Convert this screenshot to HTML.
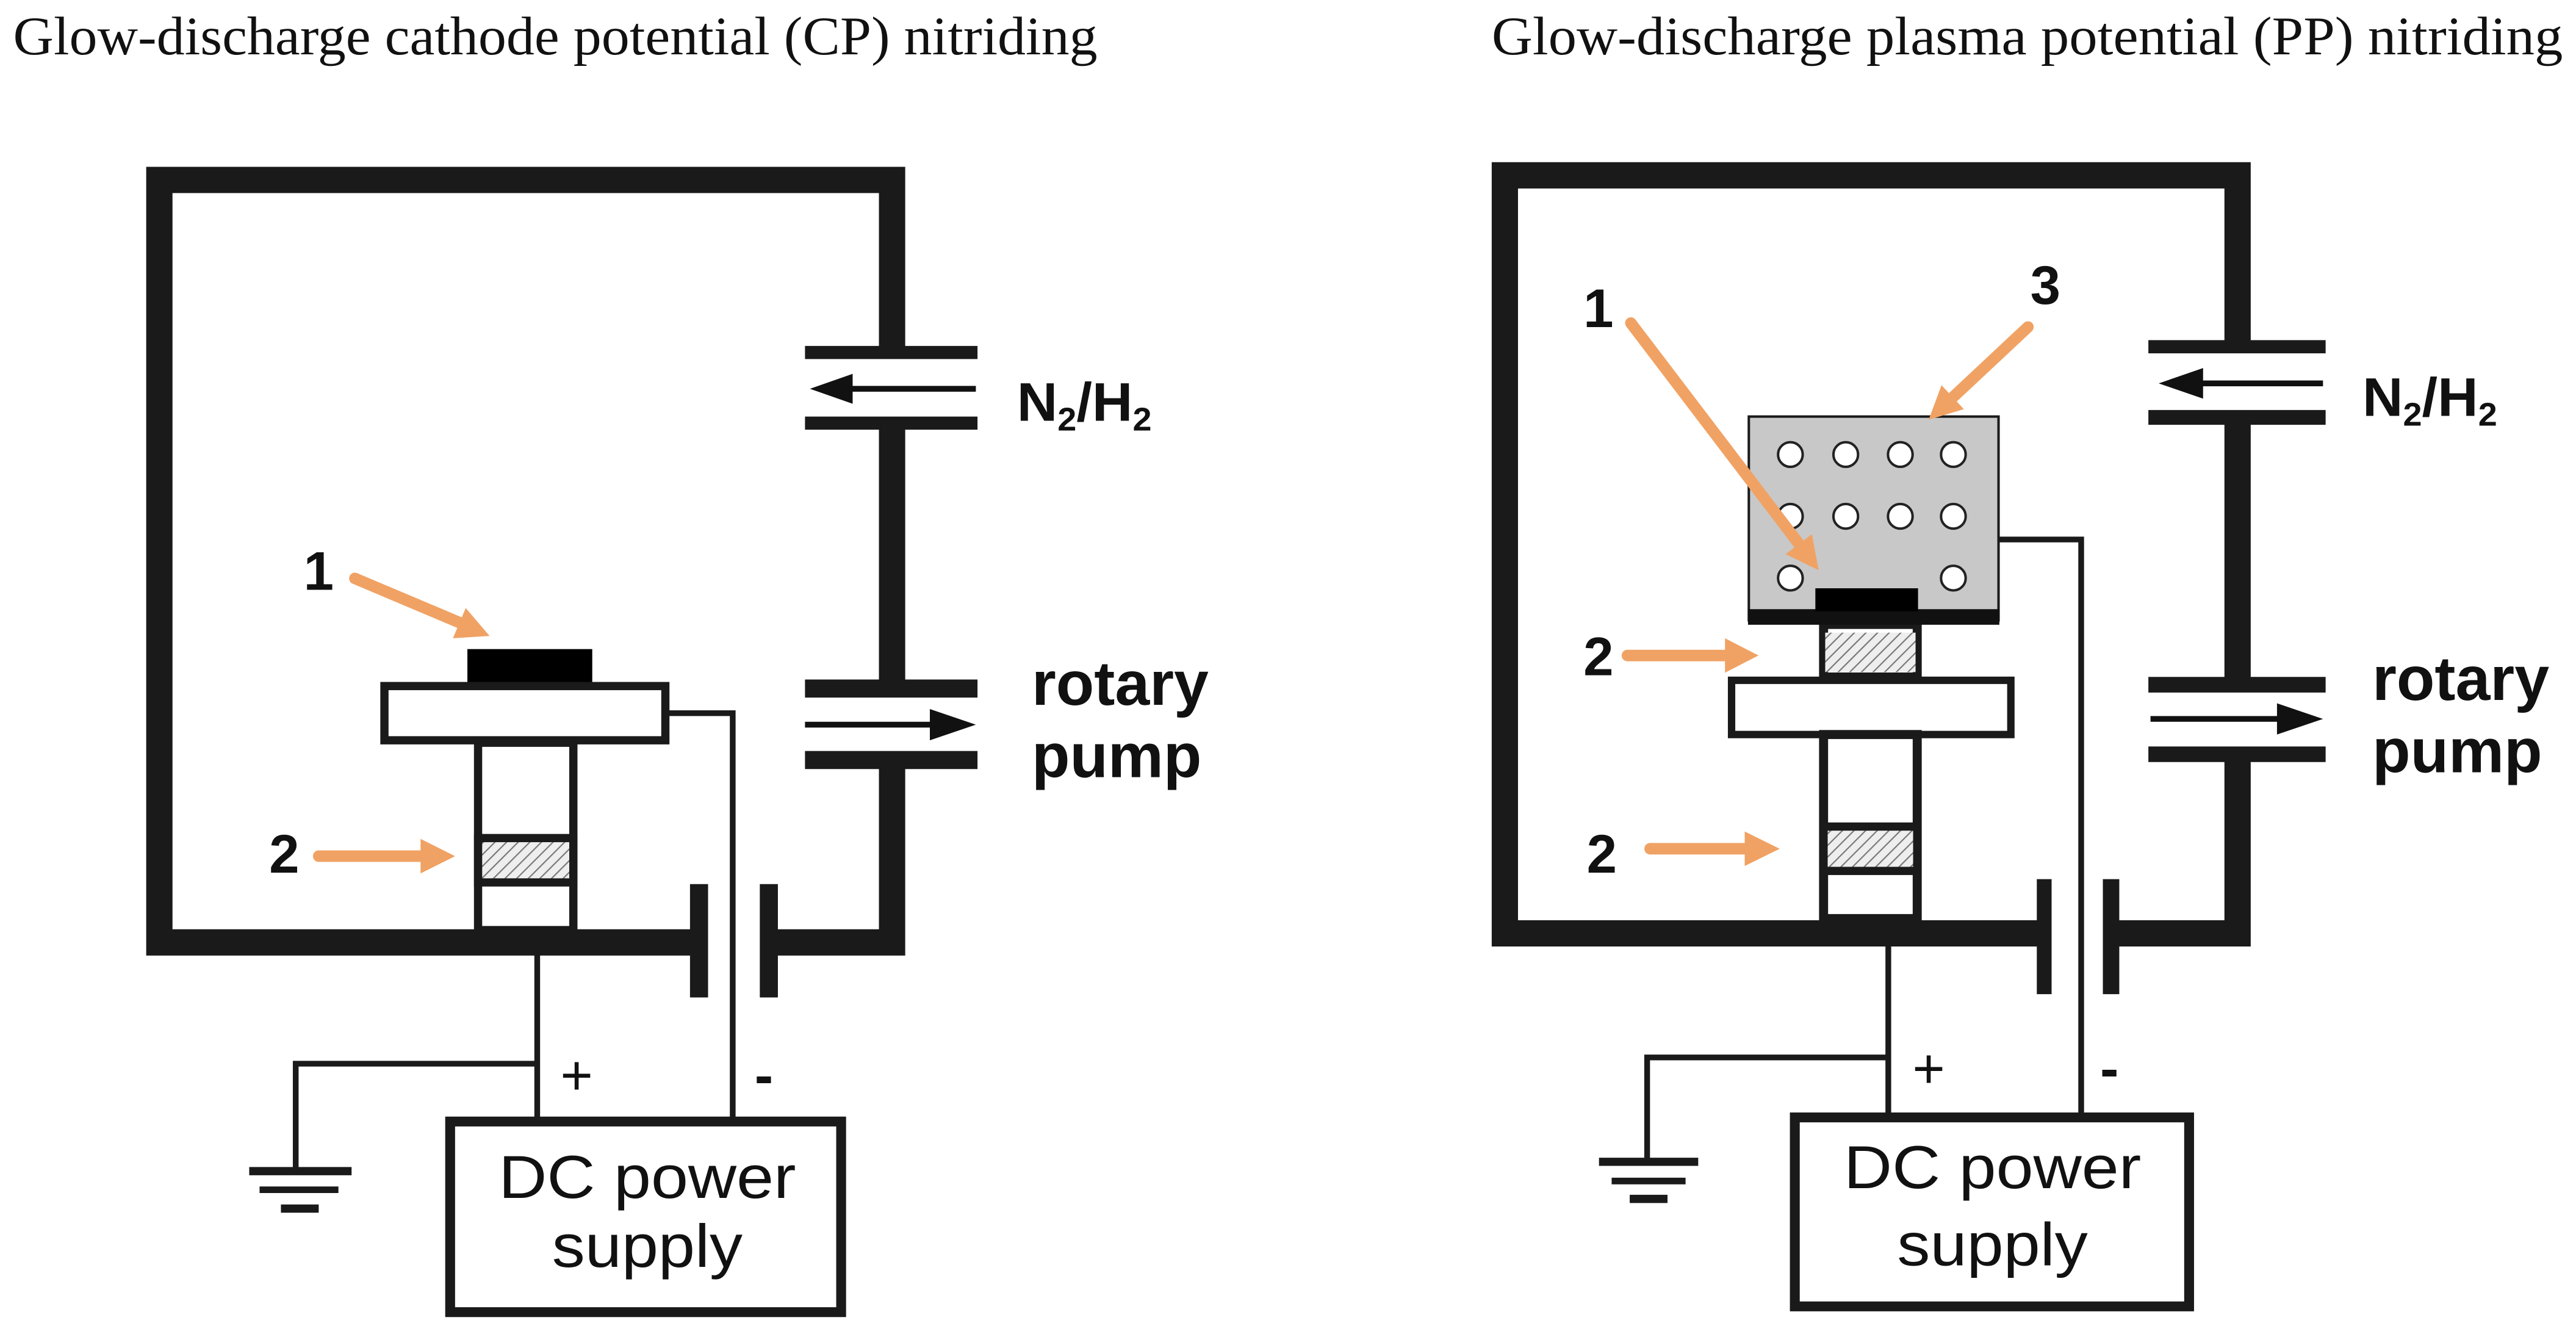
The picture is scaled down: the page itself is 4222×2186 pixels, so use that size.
<!DOCTYPE html>
<html><head><meta charset="utf-8"><style>
html,body{margin:0;padding:0;background:#fff;}
svg{display:block;}
</style></head><body>
<svg width="4222" height="2186" viewBox="0 0 1568 811.8" preserveAspectRatio="none" xmlns="http://www.w3.org/2000/svg">
<defs>
<pattern id="h" width="5" height="5" patternUnits="userSpaceOnUse" patternTransform="rotate(45)">
<rect width="5" height="5" fill="#eee"/><line x1="0" y1="0" x2="0" y2="5" stroke="#777" stroke-width="1.6"/>
</pattern>
</defs>
<rect width="1568" height="812" fill="#fff"/>
<g font-family="Liberation Serif, serif" font-size="33" fill="#111">
<text x="8" y="33" textLength="660" lengthAdjust="spacingAndGlyphs">Glow-discharge cathode potential (CP) nitriding</text>
<text x="908" y="33" textLength="652" lengthAdjust="spacingAndGlyphs">Glow-discharge plasma potential (PP) nitriding</text>
</g>

<!-- LEFT DIAGRAM -->
<g stroke="#1a1a1a" fill="none">
<path d="M543 214 V109.5 H97 V573.5 H426" stroke-width="16"/>
<path d="M468 573.5 H543 V466" stroke-width="16"/>
<path d="M543 258 V418" stroke-width="16"/>
<line x1="490" y1="214.5" x2="595" y2="214.5" stroke-width="8"/>
<line x1="490" y1="257.5" x2="595" y2="257.5" stroke-width="8"/>
<line x1="490" y1="419" x2="595" y2="419" stroke-width="11"/>
<line x1="490" y1="462.5" x2="595" y2="462.5" stroke-width="11"/>
<line x1="425.5" y1="538" x2="425.5" y2="607" stroke-width="11"/>
<line x1="468" y1="538" x2="468" y2="607" stroke-width="11"/>
<rect x="234" y="417.5" width="171" height="33" stroke-width="5" fill="#fff"/>
<rect x="291" y="452" width="58" height="114" stroke-width="5"/>
<rect x="291" y="510" width="58" height="27" stroke-width="5" fill="url(#h)"/>
<polyline points="406,434 446,434 446,680" stroke-width="3.5"/>
<line x1="327" y1="581" x2="327" y2="686" stroke-width="3.5"/>
<polyline points="327,647.3 180,647.3 180,712" stroke-width="3.5"/>
<line x1="151.7" y1="712.7" x2="214" y2="712.7" stroke-width="5"/>
<line x1="158" y1="724" x2="206" y2="724" stroke-width="4"/>
<line x1="171" y1="735.5" x2="194" y2="735.5" stroke-width="5"/>
<rect x="274" y="682.5" width="238" height="116" stroke-width="6" fill="#fff"/>
</g>
<rect x="284.5" y="395" width="76" height="20" fill="#000"/>
<g stroke="#111" stroke-width="3.5" fill="#111">
<line x1="517" y1="236.6" x2="594" y2="236.6"/>
<polygon points="493,236.6 519,227.5 519,245.7" stroke="none"/>
<line x1="490" y1="441" x2="568" y2="441"/>
<polygon points="594,441 566,431.5 566,450.5" stroke="none"/>
</g>
<g fill="#111" font-family="Liberation Sans, sans-serif">
<text x="619" y="256" font-size="33" font-weight="bold" textLength="82" lengthAdjust="spacingAndGlyphs">N<tspan font-size="20" dy="6">2</tspan><tspan dy="-6">/H</tspan><tspan font-size="20" dy="6">2</tspan></text>
<text x="628" y="429" font-size="38" font-weight="bold">rotary</text>
<text x="628" y="473" font-size="38" font-weight="bold">pump</text>
<text x="194" y="359" font-size="33" font-weight="bold" text-anchor="middle">1</text>
<text x="173" y="531" font-size="33" font-weight="bold" text-anchor="middle">2</text>
<text x="351" y="666" font-size="34" text-anchor="middle">+</text>
<text x="465" y="666" font-size="34" font-weight="bold" text-anchor="middle">-</text>
<text x="394" y="729" font-size="37" text-anchor="middle" textLength="181" lengthAdjust="spacingAndGlyphs">DC power</text>
<text x="394" y="771" font-size="37" text-anchor="middle" textLength="116" lengthAdjust="spacingAndGlyphs">supply</text>
</g>
<g stroke="#f0a264" stroke-width="7" fill="#f0a264" stroke-linecap="round">
<line x1="216" y1="352" x2="280" y2="379"/>
<polygon points="298,387 275.7,388.4 283.5,370" stroke="none"/>
<line x1="194" y1="521" x2="258" y2="521"/>
<polygon points="277,521 256,510.5 256,531.5" stroke="none"/>
</g>

<!-- RIGHT DIAGRAM -->
<g stroke="#1a1a1a" fill="none">
<path d="M1362 211 V106.7 H916 V568 H1245" stroke-width="16"/>
<path d="M1285 568 H1362 V459" stroke-width="16"/>
<path d="M1362 254 V416" stroke-width="16"/>
<line x1="1307.7" y1="211" x2="1415.6" y2="211" stroke-width="8"/>
<line x1="1307.7" y1="254" x2="1415.6" y2="254" stroke-width="9"/>
<line x1="1307.7" y1="416.7" x2="1415.6" y2="416.7" stroke-width="9.5"/>
<line x1="1307.7" y1="459" x2="1415.6" y2="459" stroke-width="9.5"/>
<line x1="1244.3" y1="535" x2="1244.3" y2="605" stroke-width="9"/>
<line x1="1285" y1="535" x2="1285" y2="605" stroke-width="10"/>
<rect x="1064.5" y="253.5" width="152" height="124" stroke-width="1.5" fill="#c8c8c8"/>
<rect x="1054" y="414" width="170" height="33" stroke-width="4.5" fill="#fff"/>
<rect x="1110" y="380" width="57" height="32" stroke-width="5.5"/>
<rect x="1111" y="385" width="55" height="24" stroke="none" fill="url(#h)"/>
<rect x="1110" y="447" width="57" height="112" stroke-width="5.5"/>
<rect x="1110" y="503" width="57" height="27" stroke-width="5" fill="url(#h)"/>
<polyline points="1217,328.3 1266.8,328.3 1266.8,677" stroke-width="3.5"/>
<line x1="1149.4" y1="576" x2="1149.4" y2="680" stroke-width="3.5"/>
<polyline points="1149.4,643.5 1002.6,643.5 1002.6,707" stroke-width="3.5"/>
<line x1="973.3" y1="707" x2="1033.7" y2="707" stroke-width="5"/>
<line x1="981" y1="718.7" x2="1026" y2="718.7" stroke-width="4"/>
<line x1="992" y1="729.6" x2="1015" y2="729.6" stroke-width="5"/>
<rect x="1092.5" y="680" width="240" height="115" stroke-width="6" fill="#fff"/>
</g>
<rect x="1064" y="370.7" width="153" height="9.5" fill="#111"/>
<rect x="1105" y="358" width="62.5" height="14" fill="#000"/>
<g fill="#fff" stroke="#222" stroke-width="1.5">
<circle cx="1089.8" cy="276.6" r="7.5"/><circle cx="1123.5" cy="276.6" r="7.5"/><circle cx="1156.7" cy="276.6" r="7.5"/><circle cx="1189" cy="276.6" r="7.5"/>
<circle cx="1089.8" cy="314.2" r="7.5"/><circle cx="1123.5" cy="314.2" r="7.5"/><circle cx="1156.7" cy="314.2" r="7.5"/><circle cx="1189" cy="314.2" r="7.5"/>
<circle cx="1089.8" cy="351.8" r="7.5"/><circle cx="1189" cy="351.8" r="7.5"/>
</g>
<g stroke="#111" stroke-width="3.5" fill="#111">
<line x1="1340" y1="233.3" x2="1414" y2="233.3"/>
<polygon points="1314,233.3 1341,224 1341,242.6" stroke="none"/>
<line x1="1309" y1="437.5" x2="1388" y2="437.5"/>
<polygon points="1414,437.5 1386,428 1386,447" stroke="none"/>
</g>
<g fill="#111" font-family="Liberation Sans, sans-serif">
<text x="1438" y="253" font-size="33" font-weight="bold" textLength="82" lengthAdjust="spacingAndGlyphs">N<tspan font-size="20" dy="6">2</tspan><tspan dy="-6">/H</tspan><tspan font-size="20" dy="6">2</tspan></text>
<text x="1444" y="426" font-size="38" font-weight="bold">rotary</text>
<text x="1444" y="470" font-size="38" font-weight="bold">pump</text>
<text x="973" y="199" font-size="33" font-weight="bold" text-anchor="middle">1</text>
<text x="1245" y="185" font-size="33" font-weight="bold" text-anchor="middle">3</text>
<text x="973" y="411" font-size="33" font-weight="bold" text-anchor="middle">2</text>
<text x="975" y="531" font-size="33" font-weight="bold" text-anchor="middle">2</text>
<text x="1174" y="662" font-size="34" text-anchor="middle">+</text>
<text x="1284" y="662" font-size="34" font-weight="bold" text-anchor="middle">-</text>
<text x="1212.8" y="723" font-size="37" text-anchor="middle" textLength="181" lengthAdjust="spacingAndGlyphs">DC power</text>
<text x="1212.8" y="770" font-size="37" text-anchor="middle" textLength="116" lengthAdjust="spacingAndGlyphs">supply</text>
</g>
<g stroke="#f0a264" stroke-width="7" fill="#f0a264" stroke-linecap="round">
<line x1="992.7" y1="196.6" x2="1095" y2="331"/>
<polygon points="1107,347 1086.9,337.2 1102.9,325.1" stroke="none"/>
<line x1="1234.4" y1="199" x2="1189" y2="241.5"/>
<polygon points="1174,255.4 1181.8,234.4 1195.4,249" stroke="none"/>
<line x1="990.6" y1="398.9" x2="1052" y2="398.9"/>
<polygon points="1070.4,398.9 1050,388.4 1050,409.4" stroke="none"/>
<line x1="1004.4" y1="516.5" x2="1064" y2="516.5"/>
<polygon points="1083.3,516.5 1062,506 1062,527" stroke="none"/>
</g>
</svg>
</body></html>
